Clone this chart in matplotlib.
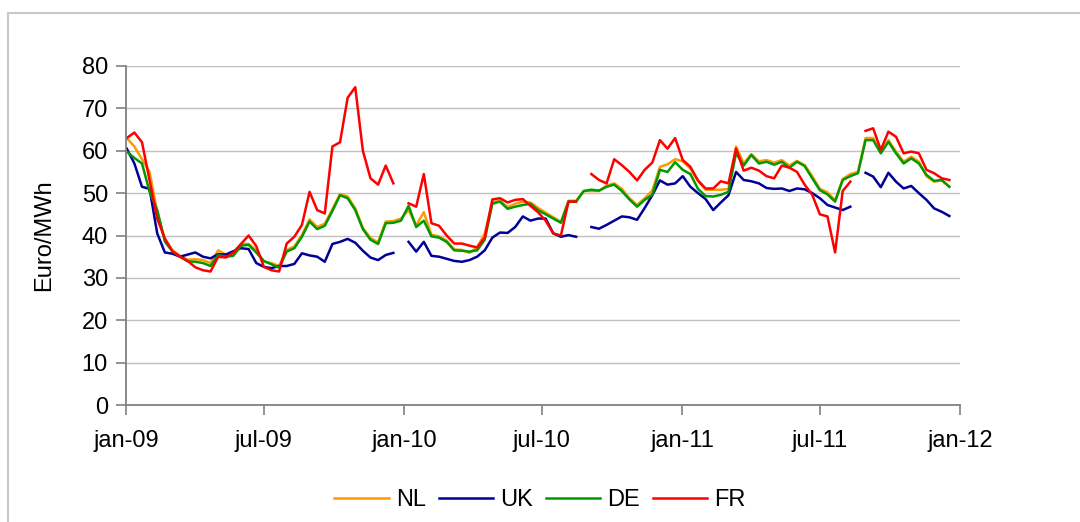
import numpy as np
import matplotlib
matplotlib.use("Agg")
import matplotlib.pyplot as plt
import matplotlib.dates as mdates
from matplotlib.patches import Rectangle

plt.rcParams['font.family'] = ['Liberation Sans', 'DejaVu Sans']

# sampling dates, every 10 days from 2 jan 2009
start = np.datetime64('2009-01-02')
dates = start + np.arange(109) * np.timedelta64(10, 'D')

nan = np.nan

# gas prices, Euro/MWh
nl = [63, 61, 58, 55, 45.5, 39, 36.5, 35.2, 34.3, 34.4,
      34.2, 33.5, 36.5, 35.5, 35.6, 38, 38, 36.6, 33.8, 33.5,
      32.8, 36.6, 37.4, 40.1, 43.8, 42, 42.8, 46.2, 49.8, 49.2,
      46.4, 41.8, 39.4, 38.4, 43.3, 43.4, 44, 46, 42.4, 45.5,
      40.2, 39.8, 38.8, 36.7, 36.6, 35.9, 37.2, 40.5, 47.8, 48.2,
      46.7, 47.5, 48, 47.8, 46.5, 45.4, 44.3, 43.2, 48.2, 48.2,
      50.5, 50.5, 50.5, 51.8, 52.3, 51, 48.8, 47.2, 48.8, 50.6,
      56.2, 56.8, 58, 57.5, 55.8, 52.8, 50.8, 50.8, 50.8, 51,
      61, 57, 59.2, 57.5, 57.8, 57.2, 57.8, 56.5, 57.6, 56.6,
      54, 51, 50.2, 48.3, 53.3, 54.5, 55, 63, 63, 59.8,
      62.5, 59.8, 57.4, 58.6, 57.4, 54, 52.7, 53, 51.5]

uk = [60.5, 57, 51.5, 51, 40.5, 36, 35.7, 35, 35.5, 36,
      35, 34.6, 35.6, 35.5, 36.3, 37, 36.8, 33.5, 32.6, 32.3,
      32.8, 32.8, 33.3, 35.8, 35.3, 35, 33.8, 38, 38.5, 39.2,
      38.3, 36.4, 34.8, 34.2, 35.4, 35.9, nan, 38.5, 36.2, 38.5,
      35.2, 35, 34.5, 34, 33.8, 34.2, 35, 36.5, 39.5, 40.7,
      40.6, 42, 44.5, 43.5, 44, 44, 40.5, 39.7, 40.1, 39.7,
      nan, 42, 41.6, 42.5, 43.5, 44.5, 44.3, 43.7, 46.5, 49.5,
      53, 52, 52.3, 54, 51.5, 50, 48.6, 46, 47.8, 49.5,
      55, 53.1, 52.8, 52.3, 51.2, 51, 51.1, 50.5, 51.1, 50.9,
      50, 48.8, 47.2, 46.6, 46, 46.8, nan, 54.8, 53.9, 51.4,
      54.8, 52.7, 51.1, 51.7, 50, 48.4, 46.4, 45.6, 44.6]

de = [59.8, 58.3, 57, 50.3, 46, 38.6, 36.2, 35, 33.9, 33.8,
      33.5, 32.8, 35.4, 35, 35.2, 37.6, 37.8, 36, 34, 33.2,
      32.4, 36.2, 37, 39.7, 43.3, 41.5, 42.3, 45.8, 49.5, 48.8,
      46, 41.5, 39, 38, 42.9, 43, 43.5, 47, 42, 43.5,
      39.8, 39.5, 38.5, 36.5, 36.4, 36.2, 36.5, 39, 47.5, 48,
      46.3, 46.8, 47.2, 47.5, 46, 45, 44, 43, 48, 48,
      50.5, 50.8, 50.6, 51.5, 52, 50.5, 48.5, 46.8, 48.4, 49.6,
      55.5, 55, 57.3, 55.5, 54.5, 51, 49.3, 49.2, 49.6, 50.3,
      59.5, 56.5, 59, 57, 57.4, 56.7, 57.4, 56, 57.4, 56.4,
      53.5, 50.7, 49.7, 48, 53.1, 54, 54.7, 62.5, 62.5, 59.4,
      62.1, 59.4, 57, 58.2, 57, 54.3, 52.9, 53.1, 51.5]

fr = [63, 64.3, 62, 53, 44, 39.3, 36.3, 35, 34, 32.5,
      31.8, 31.5, 35, 34.8, 36, 38, 40, 37.5, 32.6, 31.8,
      31.5, 38.1, 39.7, 42.5, 50.3, 46, 45.2, 61, 62, 72.5,
      75, 60, 53.5, 52, 56.5, 52.3, nan, 47.6, 46.8, 54.5,
      42.9, 42.3, 40, 38.1, 38.1, 37.6, 37.2, 39.5, 48.5, 48.8,
      47.8, 48.4, 48.6, 47, 45.5, 43.5, 40.5, 40, 48, 48,
      nan, 54.5, 53.1, 52.3, 58, 56.6, 55, 53, 55.5, 57.2,
      62.5, 60.5, 63, 57.8, 56.2, 53, 51.1, 51.1, 52.8, 52.3,
      60.5, 55.3, 56, 55.3, 54, 53.5, 56.5, 56, 55, 52,
      49.6, 45, 44.5, 36, 50.5, 52.7, nan, 64.7, 65.3, 60.2,
      64.5, 63.3, 59.4, 59.8, 59.4, 55.5, 54.7, 53.5, 53.1]

series = [("NL", nl, "#FF9900"), ("UK", uk, "#000099"),
          ("DE", de, "#009900"), ("FR", fr, "#FF0000")]

tick_dates = np.array(['2009-01-01', '2009-07-01', '2010-01-01', '2010-07-01',
                       '2011-01-01', '2011-07-01', '2012-01-01'], dtype='datetime64[D]')
tick_labels = ['jan-09', 'jul-09', 'jan-10', 'jul-10', 'jan-11', 'jul-11', 'jan-12']

fig = plt.figure(figsize=(10.8, 5.22), dpi=100)
ax = fig.add_axes([126 / 1080, 117 / 522, 834 / 1080, 339 / 522])

for name, vals, col in series:
    ax.plot(dates, vals, color=col, lw=1.8, label=name)

ax.set_xlim(tick_dates[0], tick_dates[-1])
ax.set_ylim(0, 80)
ax.set_yticks(np.arange(0, 81, 10))
ax.set_xticks(tick_dates)
ax.set_xticklabels(tick_labels)
ax.grid(axis='y', color='#c0c0c0', lw=1)
ax.set_axisbelow(True)

for s in ['top', 'right']:
    ax.spines[s].set_visible(False)
for s in ['left', 'bottom']:
    ax.spines[s].set_color('#808080')
    ax.spines[s].set_linewidth(1.3)

ax.tick_params(axis='both', colors='#808080', length=7, width=1.2,
               labelcolor='black', labelsize=17)
ax.tick_params(axis='x', pad=11)
ax.tick_params(axis='y', pad=6)
ax.set_ylabel('Euro/MWh', fontsize=17, labelpad=19)

fig.legend(loc='lower center', bbox_to_anchor=(0.5, -0.02), ncol=4,
           frameon=False, fontsize=17, handlelength=2.3, columnspacing=0.55,
           handletextpad=0.3)

# light frame around the chart
fig.patches.append(Rectangle((8 / 1080, -0.1), 1.2, (522 - 12.5) / 522 + 0.1,
                             transform=fig.transFigure, fill=False,
                             edgecolor='#c8c8c8', lw=1.5, clip_on=False))

fig.savefig('out.png', dpi=100)
